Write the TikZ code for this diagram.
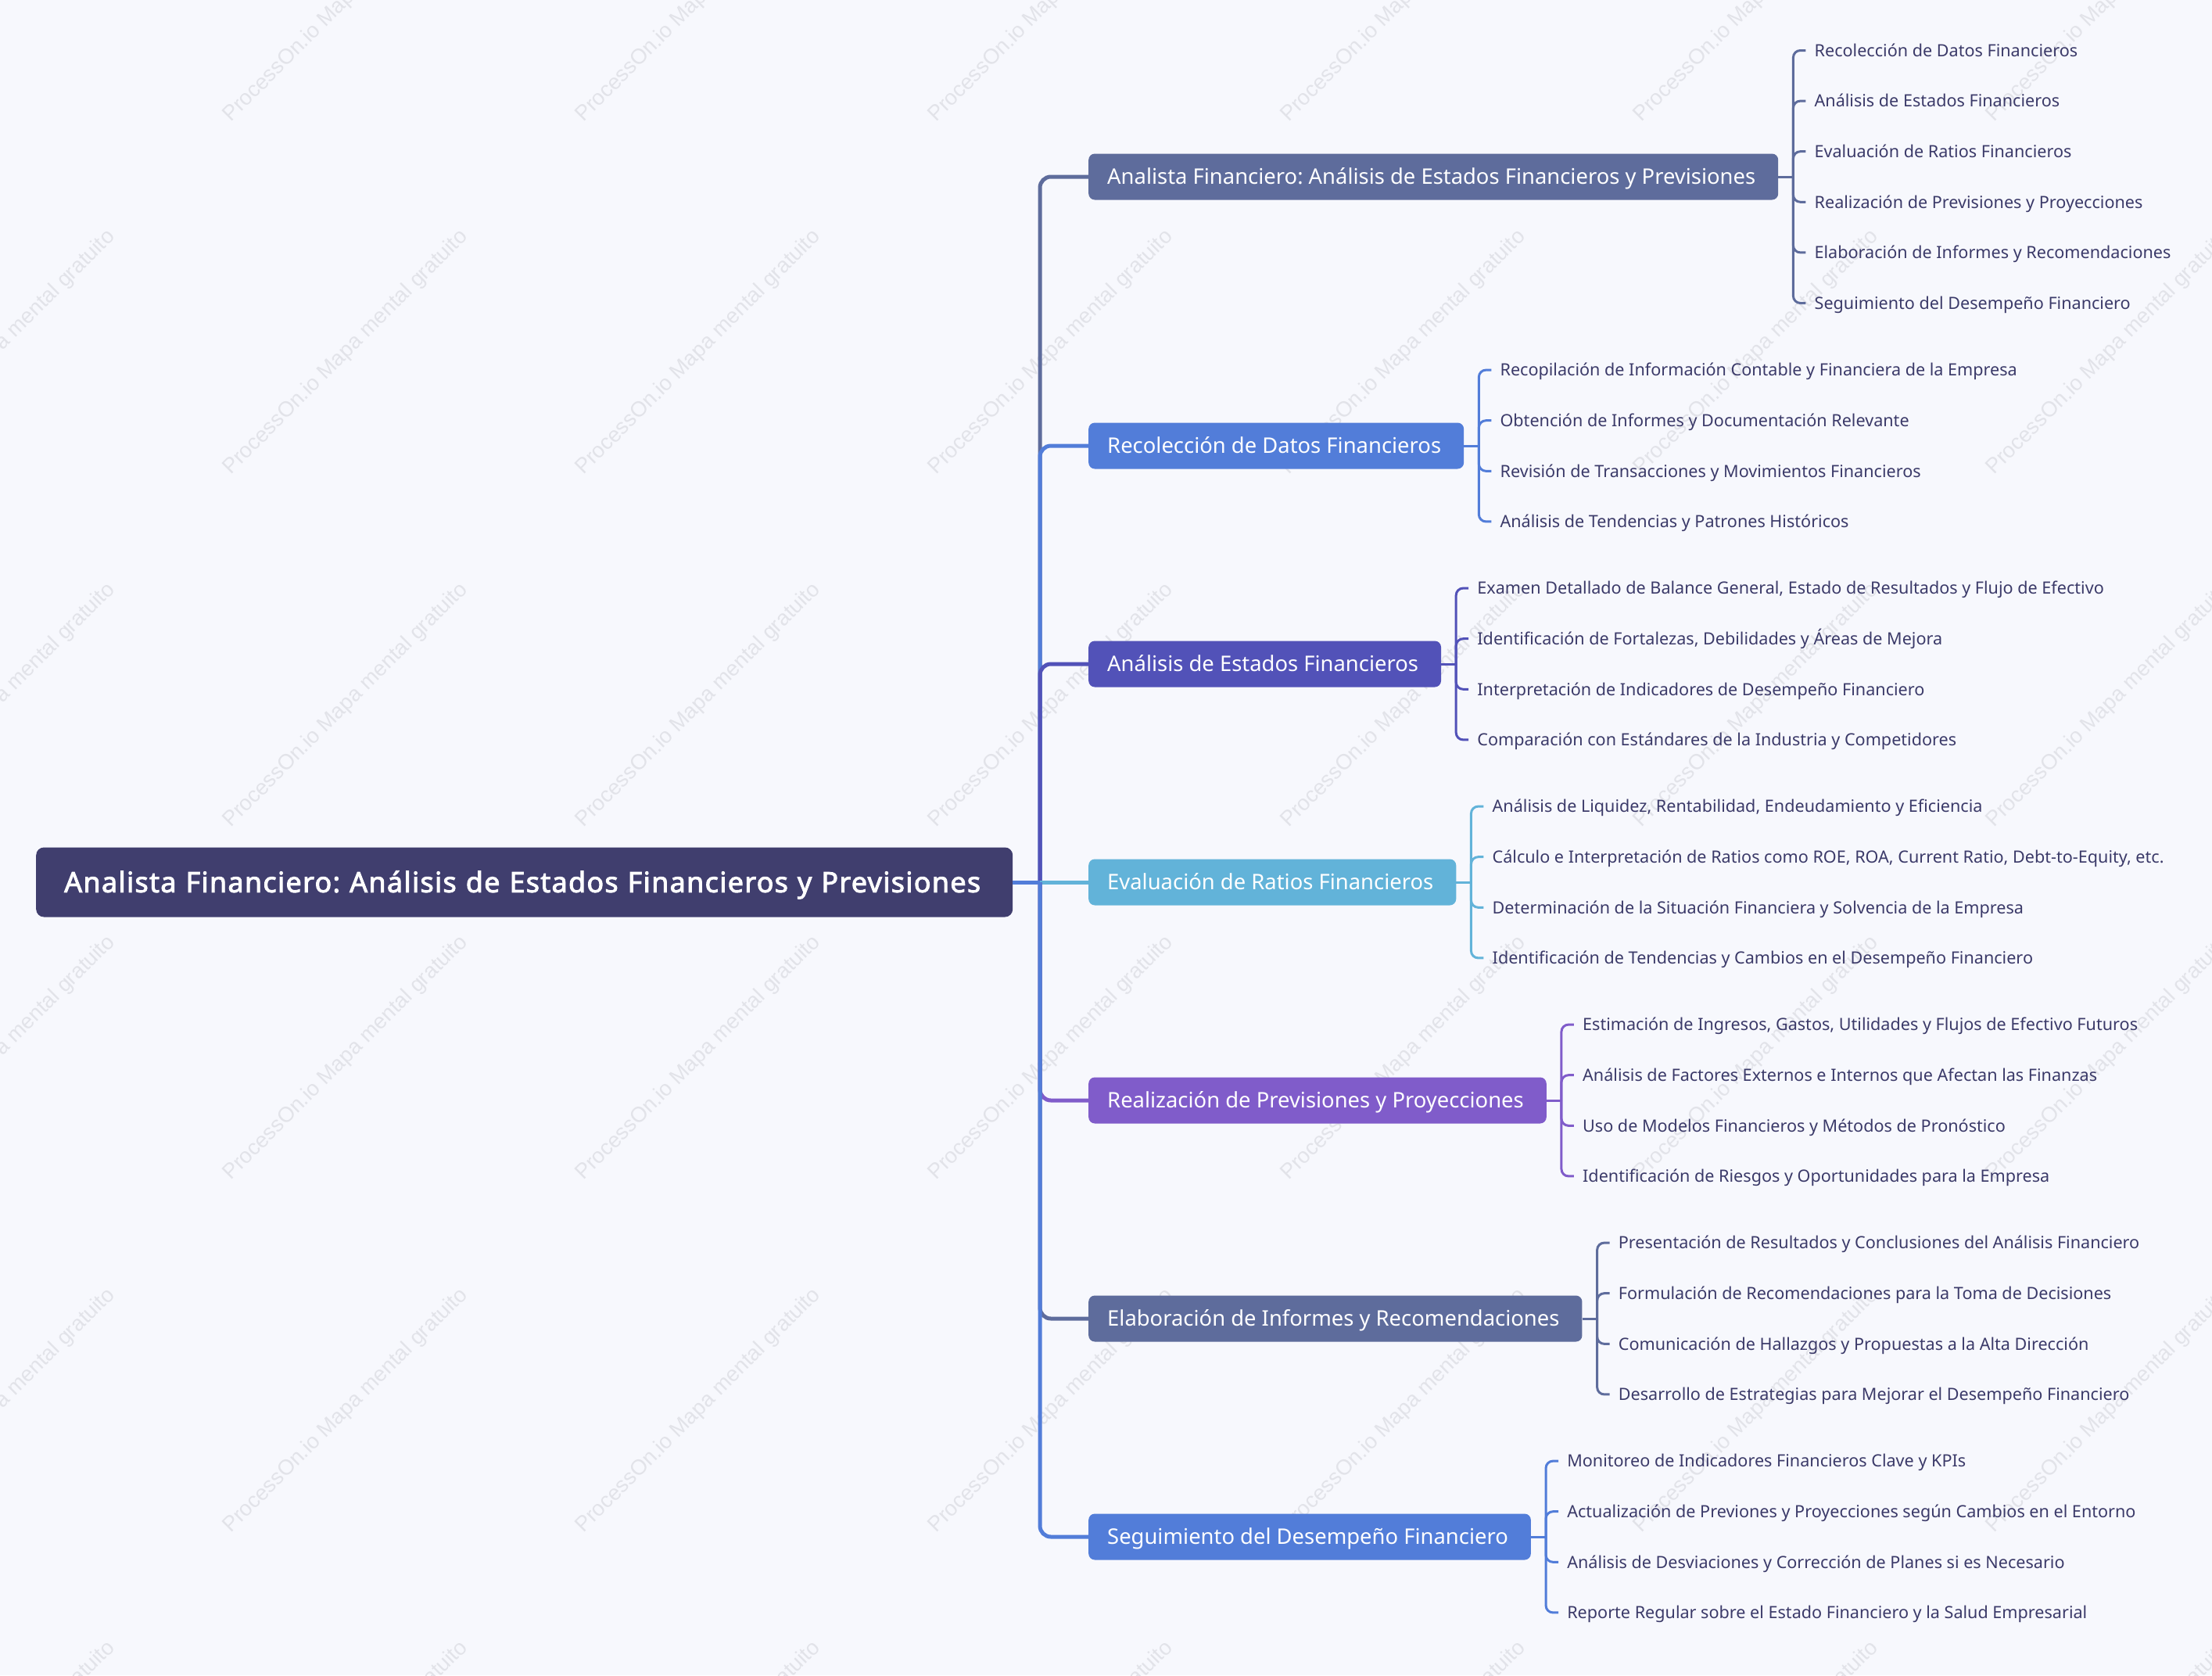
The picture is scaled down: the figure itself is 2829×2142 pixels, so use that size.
\documentclass[tikz,border=0pt]{standalone}
\usepackage{fontspec}
\setmainfont{Noto Sans}
\newfontfamily\rootff{Noto Sans}[FakeBold=2.5, LetterSpace=3.5]
\newfontfamily\wmff{Liberation Sans}
\usetikzlibrary{calc}
\frenchspacing
\definecolor{bgc}{HTML}{F7F8FD}
\definecolor{rootc}{HTML}{403E6E}
\definecolor{cA}{HTML}{5E6C9C}
\definecolor{cB}{HTML}{527DD9}
\definecolor{cC}{HTML}{5252B8}
\definecolor{cD}{HTML}{62B3D9}
\definecolor{cE}{HTML}{805CCA}
\definecolor{leafc}{HTML}{3B3A69}
\definecolor{wmc}{HTML}{E2E3E9}
\newcommand\leaffont{\fontsize{21.6}{26}\selectfont}
\newcommand\branchfont{\fontsize{27.4}{33}\selectfont}
\newcommand\rootfont{\rootff\fontsize{36}{42}\selectfont}
\newcommand\wmfont{\wmff\fontsize{27.4}{32}\selectfont}
\tikzset{
  rootbox/.style={fill=rootc, text=white, rounded corners=10pt, font=\rootfont,
    inner xsep=36pt, inner ysep=0pt, minimum height=89pt, text height=25.7pt, text depth=0pt,
    text width=1177pt, align=left, anchor=west},
  branchbox/.style={rounded corners=8pt, text=white, font=\branchfont,
    inner xsep=24pt, inner ysep=0pt, minimum height=59pt, text height=19.6pt, text depth=0pt,
    execute at end node={\hspace{5pt}}, anchor=west},
  leaf/.style={text=leafc, font=\leaffont, inner xsep=11pt, inner ysep=0pt,
    text height=15.4pt, text depth=0pt, anchor=west},
  trunkline/.style={line width=5pt, rounded corners=14pt},
  twig/.style={line width=3pt, rounded corners=9pt},
  wm/.style={text=wmc, font=\wmfont, rotate=45, inner sep=0pt},
}
\begin{document}
\begin{tikzpicture}[x=1pt, y=-1pt]
\useasboundingbox (0,0) rectangle (2829,2142);
\fill[bgc] (0,0) rectangle (2829,2142);
% watermarks
\begin{scope}
\clip (0,0) rectangle (2829,2142);
\foreach \wx in {-9,442,893,1344,1795,2246,2697}{
  \foreach \wy in {0,451,902,1353,1804,2255}{
    \node[wm] (wm-\wx-\wy) at (\wx,\wy) {ProcessOn.io Mapa mental gratuito};
  }
}
\end{scope}
% root and branches
\node[rootbox] (root) at (46,1128) {Analista Financiero: Análisis de Estados Financieros y Previsiones};
\coordinate (tj) at (1330,1128);
\node[branchbox, fill=cA] (b1) at (1392,226) {Analista Financiero: Análisis de Estados Financieros y Previsiones};
\node[branchbox, fill=cB] (b2) at (1392,570) {Recolección de Datos Financieros};
\node[branchbox, fill=cC] (b3) at (1392,849) {Análisis de Estados Financieros};
\node[branchbox, fill=cD] (b4) at (1392,1128) {Evaluación de Ratios Financieros};
\node[branchbox, fill=cE] (b5) at (1392,1407) {Realización de Previsiones y Proyecciones};
\node[branchbox, fill=cA] (b6) at (1392,1686) {Elaboración de Informes y Recomendaciones};
\node[branchbox, fill=cB] (b7) at (1392,1965) {Seguimiento del Desempeño Financiero};
% trunk connectors (drawn in order so later ones overlay)
\draw[trunkline, cA] (tj) |- (b1.west);
\draw[trunkline, cB] (tj) |- (b2.west);
\draw[trunkline, cC] (tj) |- (b3.west);
\draw[trunkline, cD] (tj) -- (b4.west);
\draw[trunkline, cE] (tj) |- (b5.west);
\draw[trunkline, cA] (tj) |- (b6.west);
\draw[trunkline, cB] (tj) |- (b7.west);
\draw[line width=5pt, cB] (root.east) -- (tj);
% junction points
\foreach \b in {1,...,7}{ \coordinate (j\b) at ($(b\b.east)+(19,0)$); }
% leaves of branch 1
\node[leaf] (l11) at ($(j1)+(16,-161.5)$) {Recolección de Datos Financieros};
\node[leaf] (l12) at ($(j1)+(16,-96.9)$) {Análisis de Estados Financieros};
\node[leaf] (l13) at ($(j1)+(16,-32.3)$) {Evaluación de Ratios Financieros};
\node[leaf] (l14) at ($(j1)+(16,32.3)$) {Realización de Previsiones y Proyecciones};
\node[leaf] (l15) at ($(j1)+(16,96.9)$) {Elaboración de Informes y Recomendaciones};
\node[leaf] (l16) at ($(j1)+(16,161.5)$) {Seguimiento del Desempeño Financiero};
% branch 2
\node[leaf] (l21) at ($(j2)+(16,-96.9)$) {Recopilación de Información Contable y Financiera de la Empresa};
\node[leaf] (l22) at ($(j2)+(16,-32.3)$) {Obtención de Informes y Documentación Relevante};
\node[leaf] (l23) at ($(j2)+(16,32.3)$) {Revisión de Transacciones y Movimientos Financieros};
\node[leaf] (l24) at ($(j2)+(16,96.9)$) {Análisis de Tendencias y Patrones Históricos};
% branch 3
\node[leaf] (l31) at ($(j3)+(16,-96.9)$) {Examen Detallado de Balance General, Estado de Resultados y Flujo de Efectivo};
\node[leaf] (l32) at ($(j3)+(16,-32.3)$) {Identificación de Fortalezas, Debilidades y Áreas de Mejora};
\node[leaf] (l33) at ($(j3)+(16,32.3)$) {Interpretación de Indicadores de Desempeño Financiero};
\node[leaf] (l34) at ($(j3)+(16,96.9)$) {Comparación con Estándares de la Industria y Competidores};
% branch 4
\node[leaf] (l41) at ($(j4)+(16,-96.9)$) {Análisis de Liquidez, Rentabilidad, Endeudamiento y Eficiencia};
\node[leaf] (l42) at ($(j4)+(16,-32.3)$) {Cálculo e Interpretación de Ratios como ROE, ROA, Current Ratio, Debt-to-Equity, etc.};
\node[leaf] (l43) at ($(j4)+(16,32.3)$) {Determinación de la Situación Financiera y Solvencia de la Empresa};
\node[leaf] (l44) at ($(j4)+(16,96.9)$) {Identificación de Tendencias y Cambios en el Desempeño Financiero};
% branch 5
\node[leaf] (l51) at ($(j5)+(16,-96.9)$) {Estimación de Ingresos, Gastos, Utilidades y Flujos de Efectivo Futuros};
\node[leaf] (l52) at ($(j5)+(16,-32.3)$) {Análisis de Factores Externos e Internos que Afectan las Finanzas};
\node[leaf] (l53) at ($(j5)+(16,32.3)$) {Uso de Modelos Financieros y Métodos de Pronóstico};
\node[leaf] (l54) at ($(j5)+(16,96.9)$) {Identificación de Riesgos y Oportunidades para la Empresa};
% branch 6
\node[leaf] (l61) at ($(j6)+(16,-96.9)$) {Presentación de Resultados y Conclusiones del Análisis Financiero};
\node[leaf] (l62) at ($(j6)+(16,-32.3)$) {Formulación de Recomendaciones para la Toma de Decisiones};
\node[leaf] (l63) at ($(j6)+(16,32.3)$) {Comunicación de Hallazgos y Propuestas a la Alta Dirección};
\node[leaf] (l64) at ($(j6)+(16,96.9)$) {Desarrollo de Estrategias para Mejorar el Desempeño Financiero};
% branch 7
\node[leaf] (l71) at ($(j7)+(16,-96.9)$) {Monitoreo de Indicadores Financieros Clave y KPIs};
\node[leaf] (l72) at ($(j7)+(16,-32.3)$) {Actualización de Previones y Proyecciones según Cambios en el Entorno};
\node[leaf] (l73) at ($(j7)+(16,32.3)$) {Análisis de Desviaciones y Corrección de Planes si es Necesario};
\node[leaf] (l74) at ($(j7)+(16,96.9)$) {Reporte Regular sobre el Estado Financiero y la Salud Empresarial};
% leaf connectors
\draw[twig, cA] (b1.east) -- (j1);
\foreach \i in {1,...,6}{ \draw[twig, cA] (j1) |- (l1\i.west); }
\draw[twig, cB] (b2.east) -- (j2);
\foreach \i in {1,...,4}{ \draw[twig, cB] (j2) |- (l2\i.west); }
\draw[twig, cC] (b3.east) -- (j3);
\foreach \i in {1,...,4}{ \draw[twig, cC] (j3) |- (l3\i.west); }
\draw[twig, cD] (b4.east) -- (j4);
\foreach \i in {1,...,4}{ \draw[twig, cD] (j4) |- (l4\i.west); }
\draw[twig, cE] (b5.east) -- (j5);
\foreach \i in {1,...,4}{ \draw[twig, cE] (j5) |- (l5\i.west); }
\draw[twig, cA] (b6.east) -- (j6);
\foreach \i in {1,...,4}{ \draw[twig, cA] (j6) |- (l6\i.west); }
\draw[twig, cB] (b7.east) -- (j7);
\foreach \i in {1,...,4}{ \draw[twig, cB] (j7) |- (l7\i.west); }
\end{tikzpicture}
\end{document}
